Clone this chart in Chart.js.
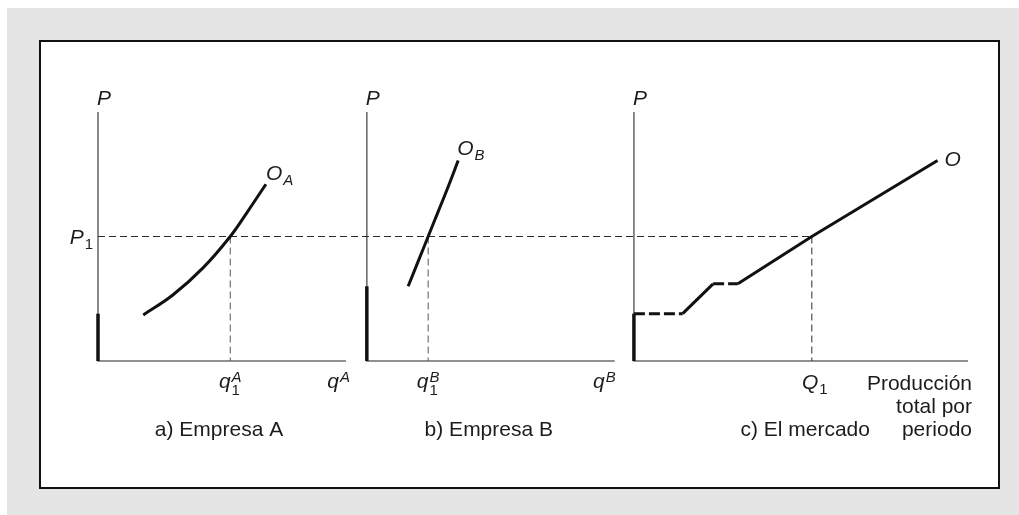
<!DOCTYPE html>
<html>
<head>
<meta charset="utf-8">
<script src="https://cdn.jsdelivr.net/npm/chart.js@4/dist/chart.umd.min.js"></script>
<style>
  html, body { margin: 0; padding: 0; background: #ffffff; }
  canvas { display: block; }
</style>
</head>
<body>
<canvas id="c" width="1019" height="515"></canvas>
<script>
// Shared price axis
const priceMin = 0, priceMax = 10;
const P1 = 5.0;

// a) Empresa A: supply curve O_A and shutdown stretch on the price axis
const qA = [5.2, 8.6, 12.1, 15.2, 17.2, 19.3];
const pA = [1.85, 2.65, 3.75, 5.0, 6.0, 7.1];
const shutdownA = 1.9;
const qA1 = 15.2;

// b) Empresa B
const qB = [4.75, 5.9, 7.05, 8.2, 9.35, 10.5];
const pB = [3.0, 4.0, 5.0, 6.0, 7.0, 8.05];
const shutdownB = 3.0;
const qB1 = 7.05;

// c) El mercado: horizontal sum O, with discontinuous (dashed) stretches
const qM = [0, 5.6, 9.1, 11.95, 20.45, 34.9];
const pM = [1.9, 1.9, 3.1, 3.1, 5.0, 8.05];
const gapM = [true, false, true, false, false];
const shutdownM = 1.9;
const Q1 = 20.45;

const captions = ['a) Empresa A', 'b) Empresa B', 'c) El mercado'];
const outputLabel = ['Producción', 'total por', 'periodo'];

// Where each panel sits along the common horizontal scale
const panels = [
  { origin: 0,    length: 28.5 },
  { origin: 30.9, length: 28.5 },
  { origin: 61.6, length: 38.4 }
];

const FONT = '"Liberation Sans", Arial, Helvetica, sans-serif';
const INK = '#1c1c1c';
const TEXT_PX = 21, SMALL_PX = 15;

const pts = (o, xs, ys) => xs.map((x, i) => ({ x: o + x, y: ys[i] }));

const datasets = [];
const base = { pointRadius: 0, pointHoverRadius: 0, fill: false, clip: false, borderCapStyle: 'butt' };

// axes of each panel
panels.forEach(p => {
  datasets.push({ ...base, order: 3, borderColor: '#6e6e6e', borderWidth: 1.6,
    data: [{ x: p.origin, y: priceMax }, { x: p.origin, y: priceMin }, { x: p.origin + p.length, y: priceMin }] });
});

// thick stretches on the price axis (no output below the minimum price)
[shutdownA, shutdownB, shutdownM].forEach((s, i) => {
  datasets.push({ ...base, order: 1, borderColor: '#111', borderWidth: 3.5,
    data: [{ x: panels[i].origin, y: priceMin }, { x: panels[i].origin, y: s }] });
});

// dashed guide lines at P1
datasets.push({ ...base, order: 2, borderColor: '#2a2a2a', borderWidth: 1, borderDash: [7, 4],
  data: [{ x: panels[0].origin, y: P1 }, { x: panels[2].origin + Q1, y: P1 }] });
[[0, qA1], [1, qB1], [2, Q1]].forEach(([i, q]) => {
  datasets.push({ ...base, order: 2, borderColor: i === 2 ? '#2a2a2a' : '#555', borderWidth: 1, borderDash: [7, 4],
    data: [{ x: panels[i].origin + q, y: P1 }, { x: panels[i].origin + q, y: priceMin }] });
});

// supply curves
datasets.push({ ...base, order: 0, borderColor: '#111', borderWidth: 3, tension: 0.4,
  data: pts(panels[0].origin, qA, pA) });
datasets.push({ ...base, order: 0, borderColor: '#111', borderWidth: 3, tension: 0.4,
  data: pts(panels[1].origin, qB, pB) });
datasets.push({ ...base, order: 0, borderColor: '#111', borderWidth: 3, tension: 0,
  data: pts(panels[2].origin, qM, pM),
  segment: { borderDash: c => gapM[c.p0DataIndex] ? [11, 4] : undefined } });

// italic letter with optional superscript / subscript
function mathLabel(ctx, x, y, letter, sup, sub, align) {
  const big = 'italic ' + TEXT_PX + 'px ' + FONT;
  const small = s => (/\d/.test(s) ? '' : 'italic ') + SMALL_PX + 'px ' + FONT;
  ctx.font = big;
  const wb = ctx.measureText(letter).width;
  let ws = 0;
  [sup, sub].forEach(s => { if (s) { ctx.font = small(s); ws = Math.max(ws, ctx.measureText(s).width); } });
  const total = wb + (ws ? ws + 1 : 0);
  const x0 = align === 'center' ? x - total / 2 : align === 'right' ? x - total : x;
  ctx.textAlign = 'left';
  ctx.textBaseline = 'alphabetic';
  ctx.font = big;
  ctx.fillText(letter, x0, y);
  if (sup) { ctx.font = small(sup); ctx.fillText(sup, x0 + wb + 1, y - 6); }
  if (sub) { ctx.font = small(sub); ctx.fillText(sub, x0 + wb + 1, sup ? y + 7 : y + 5); }
}

const framePlugin = {
  id: 'frame',
  beforeDraw(chart) {
    const ctx = chart.ctx;
    ctx.save();
    ctx.fillStyle = '#ffffff';
    ctx.fillRect(0, 0, chart.width, chart.height);
    ctx.fillStyle = '#e5e5e5';
    ctx.fillRect(7, 8, chart.width - 7, chart.height - 8);
    ctx.fillStyle = '#ffffff';
    ctx.fillRect(40, 41, 959, 447);
    ctx.strokeStyle = '#111';
    ctx.lineWidth = 2;
    ctx.strokeRect(40, 41, 959, 447);
    ctx.restore();
  }
};

const labelPlugin = {
  id: 'labels',
  afterDatasetsDraw(chart) {
    const ctx = chart.ctx;
    const X = v => chart.scales.x.getPixelForValue(v);
    const Y = v => chart.scales.y.getPixelForValue(v);
    const y0 = Y(priceMin);
    ctx.save();
    ctx.fillStyle = INK;

    panels.forEach(p => mathLabel(ctx, X(p.origin) - 1, Y(priceMax) - 7, 'P', null, null, 'left'));
    mathLabel(ctx, X(panels[0].origin) - 5, Y(P1) + 7, 'P', null, '1', 'right');

    const nA = qA.length - 1, nB = qB.length - 1, nM = qM.length - 1;
    mathLabel(ctx, X(panels[0].origin + qA[nA]), Y(pA[nA]) - 4, 'O', null, 'A', 'left');
    mathLabel(ctx, X(panels[1].origin + qB[nB]) - 1, Y(pB[nB]) - 6, 'O', null, 'B', 'left');
    mathLabel(ctx, X(panels[2].origin + qM[nM]) + 7, Y(pM[nM]) + 5, 'O', null, null, 'left');

    mathLabel(ctx, X(panels[0].origin + qA1), y0 + 27, 'q', 'A', '1', 'center');
    mathLabel(ctx, X(panels[0].origin + panels[0].length) + 4, y0 + 27, 'q', 'A', null, 'right');
    mathLabel(ctx, X(panels[1].origin + qB1), y0 + 27, 'q', 'B', '1', 'center');
    mathLabel(ctx, X(panels[1].origin + panels[1].length) + 1, y0 + 27, 'q', 'B', null, 'right');
    mathLabel(ctx, X(panels[2].origin + Q1) + 3, y0 + 28, 'Q', null, '1', 'center');

    ctx.font = TEXT_PX + 'px ' + FONT;
    ctx.textBaseline = 'alphabetic';
    ctx.textAlign = 'right';
    const right = X(panels[2].origin + panels[2].length) + 4;
    outputLabel.forEach((t, i) => ctx.fillText(t, right, y0 + 29 + i * 23));
    const rowY = y0 + 29 + 2 * 23;
    ctx.textAlign = 'center';
    ctx.fillText(captions[0], X(panels[0].origin + panels[0].length / 2) - 3, rowY);
    ctx.fillText(captions[1], X(panels[1].origin + panels[1].length / 2) - 2, rowY);
    ctx.textAlign = 'right';
    const wPer = ctx.measureText(outputLabel[2]).width;
    ctx.fillText(captions[2], right - wPer - 32, rowY);
    ctx.restore();
  }
};

new Chart(document.getElementById('c'), {
  type: 'line',
  data: { datasets },
  options: {
    responsive: false,
    devicePixelRatio: 1,
    animation: false,
    events: [],
    layout: { padding: { left: 98, right: 51, top: 112, bottom: 154 } },
    scales: {
      x: { type: 'linear', min: 0, max: 100, display: false },
      y: { type: 'linear', min: priceMin, max: priceMax, display: false }
    },
    plugins: { legend: { display: false }, tooltip: { enabled: false } }
  },
  plugins: [framePlugin, labelPlugin]
});
</script>
</body>
</html>
